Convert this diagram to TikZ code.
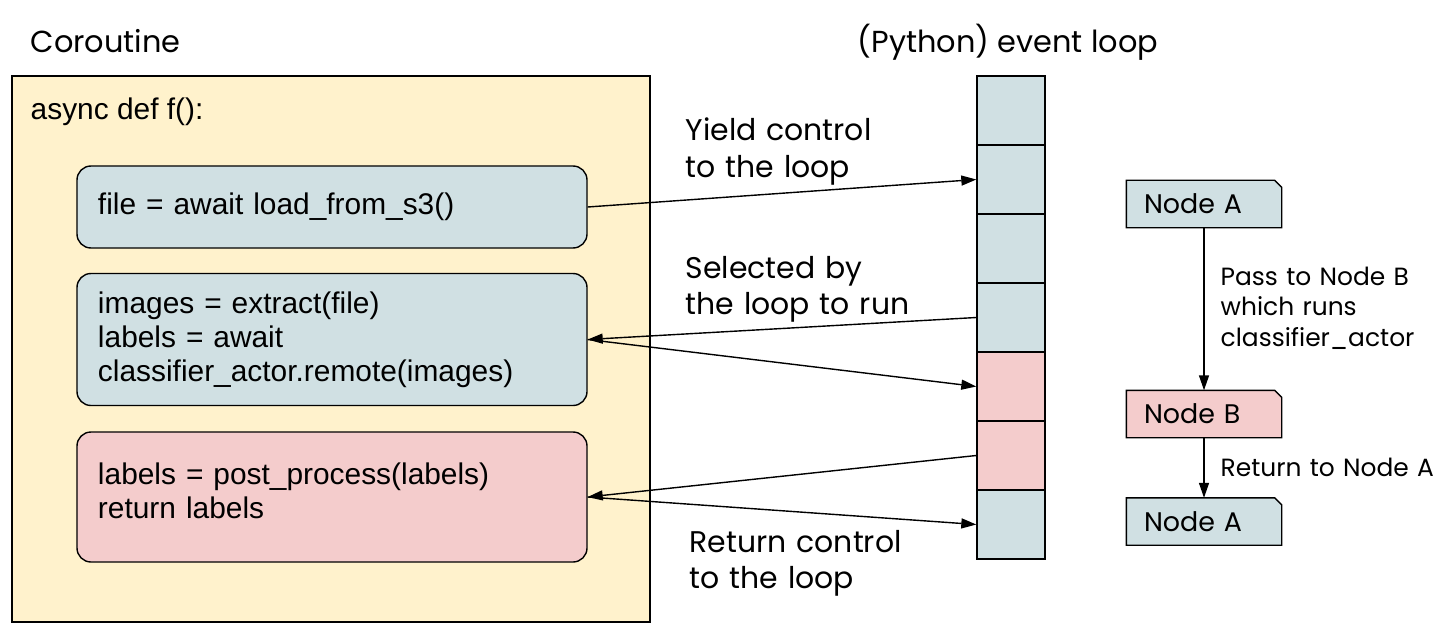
\documentclass[tikz,border=0pt]{standalone}
\usepackage{fontspec}
\setmainfont{Poppins}
\newfontfamily\codefont{Liberation Sans}
\usetikzlibrary{arrows.meta,backgrounds}
\definecolor{cblue}{HTML}{D0E0E3}
\definecolor{cpink}{HTML}{F4CCCC}
\definecolor{cyell}{HTML}{FFF2CC}
\begin{document}
\begin{tikzpicture}[x=1bp,y=-1bp,line width=1.4bp,
  code/.style={font=\codefont\fontsize{30}{34}\selectfont},
  cbox/.style={draw,rounded corners=14bp,text width=468bp,inner xsep=21bp,inner ysep=0pt,align=left,code},
  cell/.style={draw,minimum width=68bp,minimum height=69bp,inner sep=0pt},
  lbl/.style={font=\fontsize{30}{36.5}\selectfont,text width=300bp,align=left,inner sep=0pt,anchor=base west},
  slbl/.style={font=\fontsize{25}{31}\selectfont,text width=240bp,align=left,inner sep=0pt,anchor=base west},
  nodebox/.style={text width=120bp,inner xsep=17bp,inner ysep=0pt,minimum height=46bp,align=left,font=\fontsize{27}{30}\selectfont},
  arr/.style={-{Triangle[length=15bp,width=10bp]}},
  chamf/.style={line width=1.4bp,line join=miter},
]
\useasboundingbox (0,0) rectangle (1456,641);
% titles
\node[inner sep=0pt,anchor=base west,font=\fontsize{30.5}{34}\selectfont] (t1) at (30,53) {Coroutine};
\node[inner sep=0pt,anchor=base,font=\fontsize{30.5}{34}\selectfont] (t2) at (1008,53) {(Python) event loop};
% coroutine box
\node[draw,fill=cyell,minimum width=638bp,minimum height=546bp,inner sep=0pt] (co) at (331,349) {};
\node[inner sep=0pt,anchor=base west,code] (def) at (30,120) {async def f():};
\node[cbox,fill=cblue,minimum height=82bp] (b1) at (332,207) {file = await load\_from\_s3()};
\node[cbox,fill=cblue,minimum height=132bp] (b2) at (332,339.5) {images = extract(file)\\labels = await\\classifier\_actor.remote(images)};
\node[cbox,fill=cpink,minimum height=130bp] (b3) at (332,497) {labels = post\_process(labels)\\return labels\par\kern12bp};
% event loop
\foreach \i/\c in {1/cblue,2/cblue,3/cblue,4/cblue,5/cpink,6/cpink,7/cblue}
  \node[cell,fill=\c] (c\i) at (1011,{76+69*\i-34.5}) {};
% arrows
\draw[arr] (b1.east) -- (c2.west);
\draw[arr] (c4.west) -- (b2.east);
\draw[arr] (b2.east) -- (c5.west);
\draw[arr] (c6.west) -- (b3.east);
\draw[arr] (b3.east) -- (c7.west);
% labels
\node[lbl] (l1) at (685,141) {Yield control\\to the loop};
\node[lbl] (l2) at (685,278) {Selected by\\the loop to run};
\node[lbl] (l3) at (689,552) {Return control\\to the loop};
% right nodes
\node[nodebox] (na1) at (1204,204) {Node A};
\node[nodebox] (nb) at (1204,414) {Node B};
\node[nodebox] (na2) at (1204,521.5) {Node A};
\begin{scope}[on background layer]
\foreach \n/\c in {na1/cblue,nb/cpink,na2/cblue}
  \fill[fill=\c] (\n.south west) -- (\n.north west) -- ([xshift=-7bp]\n.north east) -- ([yshift=-7bp]\n.north east) -- (\n.south east) -- cycle;
\end{scope}
\foreach \n in {na1,nb,na2}
  \draw[chamf] (\n.south west) -- (\n.north west) -- ([xshift=-7bp]\n.north east) -- ([yshift=-7bp]\n.north east) -- (\n.south east) -- cycle;
\draw[arr] (na1) -- (nb);
\draw[arr] (nb) -- (na2);
\node[slbl] (l4) at (1220,285) {Pass to Node B\\which runs\\classifier\_actor};
\node[slbl] (l5) at (1220,476) {Return to Node A};
\end{tikzpicture}
\end{document}
